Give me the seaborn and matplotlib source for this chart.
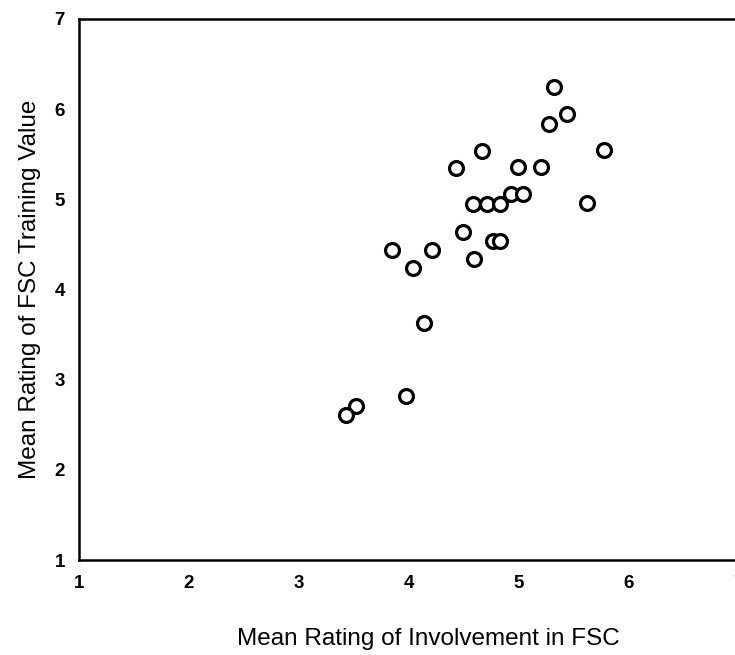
import pandas as pd
import matplotlib
matplotlib.use("Agg")
import matplotlib.pyplot as plt
import seaborn as sns

# values
involvement = [5.32, 5.44, 5.28, 4.67, 5.78, 4.43, 5.00, 5.21, 4.93, 5.04,
               4.59, 4.71, 4.83, 5.62, 4.50, 4.77, 4.83, 3.85, 4.21, 4.04,
               4.60, 4.14, 3.98, 3.52, 3.43]
training_value = [6.24, 5.94, 5.83, 5.53, 5.55, 5.35, 5.36, 5.36, 5.06, 5.06,
                  4.95, 4.95, 4.95, 4.96, 4.64, 4.54, 4.54, 4.44, 4.44, 4.24,
                  4.34, 3.63, 2.82, 2.71, 2.61]
ticks = [1, 2, 3, 4, 5, 6, 7]

df = pd.DataFrame({'Involvement': involvement, 'Training': training_value})

sns.set_style("white")
plt.rcParams['font.family'] = ['Liberation Sans', 'DejaVu Sans']

fig = plt.figure(figsize=(7.35, 6.55), dpi=100)
ax = fig.add_axes([0.1072, 0.145, 0.8971, 0.8263])

sns.scatterplot(data=df, x='Involvement', y='Training', ax=ax,
                marker='o', s=100, facecolor='white', edgecolor='black',
                linewidth=2.3, legend=False, zorder=3)

ax.set_xlim(1, 7)
ax.set_ylim(1, 7)
ax.set_xticks(ticks)
ax.set_yticks(ticks)
ax.set_xticklabels([str(t) for t in ticks], fontweight='bold', fontsize=13.5)
ax.set_yticklabels([str(t) for t in ticks], fontweight='bold', fontsize=13.5)
ax.tick_params(axis='both', direction='out', length=4, width=2.5,
               color='black', labelcolor='black')
ax.tick_params(axis='x', pad=7)
ax.tick_params(axis='y', pad=6)

for side in ['left', 'bottom', 'top', 'right']:
    ax.spines[side].set_color('black')
    ax.spines[side].set_linewidth(1.8)
    ax.spines[side].set_visible(True)

ax.set_xlabel('Mean Rating of Involvement in FSC', fontsize=17.5,
              color='black', va='baseline')
ax.set_ylabel('Mean Rating of FSC Training Value', fontsize=17.5,
              color='black', va='baseline')
ax.xaxis.set_label_coords(0.5296, -0.157)
ax.yaxis.set_label_coords(-0.065, 0.5)

fig.savefig('out.png', dpi=100)
